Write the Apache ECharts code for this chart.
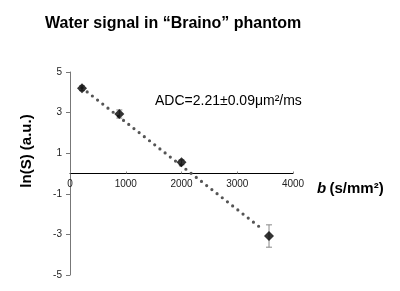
<!DOCTYPE html>
<html><head><meta charset="utf-8">
<script src="https://cdn.jsdelivr.net/npm/echarts@6/dist/echarts.min.js"></script>
<style>html,body{margin:0;padding:0;background:#fff}#c{width:400px;height:291px}</style>
</head><body><div id="c"></div>
<script>
const bValues = [215, 885, 2000, 3570];
const lnS = [4.2, 2.93, 0.55, -3.08];
const errors = [0.12, 0.2, 0.12, 0.55];
const trendX = [215, 3440];
const trendY = [4.22, -2.72];
const yTicks = [-5, 5, 2];
const xTicks = [0, 4000, 1000];

const chart = echarts.init(document.getElementById('c'), null, {renderer:'canvas'});
const pts = bValues.map((b,i)=>[b, lnS[i]]);
const errData = bValues.map((b,i)=>[b, lnS[i]-errors[i], lnS[i]+errors[i]]);
const trend = trendX.map((x,i)=>[x, trendY[i]]);
const font = 'Liberation Sans, Arial, sans-serif';
const gridTop = 72, gridBottom = 16, H = 291;
const plotH = H - gridTop - gridBottom;
const zeroOffset = -plotH * (0 - yTicks[0]) / (yTicks[1] - yTicks[0]);
chart.setOption({
  animation:false,
  title:{text:'Water signal in \u201CBraino\u201D phantom', left:40, top:11,
    textStyle:{fontFamily:font, fontSize:16, fontWeight:'bold', color:'#000'}},
  grid:{left:70, right:107, top:gridTop, bottom:gridBottom},
  xAxis:{type:'value', min:xTicks[0], max:xTicks[1], interval:xTicks[2],
    offset: zeroOffset,
    axisLine:{onZero:false, lineStyle:{color:'#000', width:1}},
    axisTick:{show:true, inside:true, length:2, lineStyle:{color:'#888'}}, splitLine:{show:false},
    axisLabel:{fontFamily:font, fontSize:10, color:'#222', margin:6, formatter:v=>String(v)}},
  yAxis:{type:'value', min:yTicks[0], max:yTicks[1], interval:yTicks[2],
    axisLine:{show:true, onZero:false, lineStyle:{color:'#777', width:1}},
    axisTick:{show:true, length:4, lineStyle:{color:'#777'}}, splitLine:{show:false},
    axisLabel:{fontFamily:font, fontSize:10, color:'#222', margin:8}},
  graphic:[
    {type:'text', left:317, top:181, style:{rich:{b:{fontFamily:font,fontSize:15,fontWeight:'bold',fontStyle:'italic',fill:'#000'},n:{fontFamily:font,fontSize:15,fontWeight:'bold',fill:'#000'}}, text:'{b|b} {n|(s/mm\u00B2)}'}},
    {type:'text', x:27, y:151, rotation:Math.PI/2, style:{text:'ln(S) (a.u.)', fontFamily:font, fontSize:15, fontWeight:'bold', fill:'#000', align:'center', verticalAlign:'middle'}},
    {type:'text', left:155, top:94, style:{text:'ADC=2.21\u00B10.09\u03BCm\u00B2/ms', fontFamily:font, fontSize:14, fill:'#000'}}
  ],
  series:[
    {type:'line', data:trend, symbol:'none', z:1,
      lineStyle:{color:'#555', width:3.2, type:[0,6.6], cap:'round'}},
    {type:'custom', z:2, data:errData, renderItem:(params, api)=>{
      const lo = api.coord([api.value(0), api.value(1)]);
      const hi = api.coord([api.value(0), api.value(2)]);
      const w = 3;
      const st = {stroke:'#888', lineWidth:1};
      return {type:'group', children:[
        {type:'line', shape:{x1:lo[0], y1:lo[1], x2:hi[0], y2:hi[1]}, style:st},
        {type:'line', shape:{x1:lo[0]-w, y1:lo[1], x2:lo[0]+w, y2:lo[1]}, style:st},
        {type:'line', shape:{x1:hi[0]-w, y1:hi[1], x2:hi[0]+w, y2:hi[1]}, style:st}
      ]};
    }},
    {type:'scatter', z:3, data:pts, symbol:'diamond', symbolSize:[10,10],
      itemStyle:{color:'#000'}}
  ]
});
</script></body></html>
